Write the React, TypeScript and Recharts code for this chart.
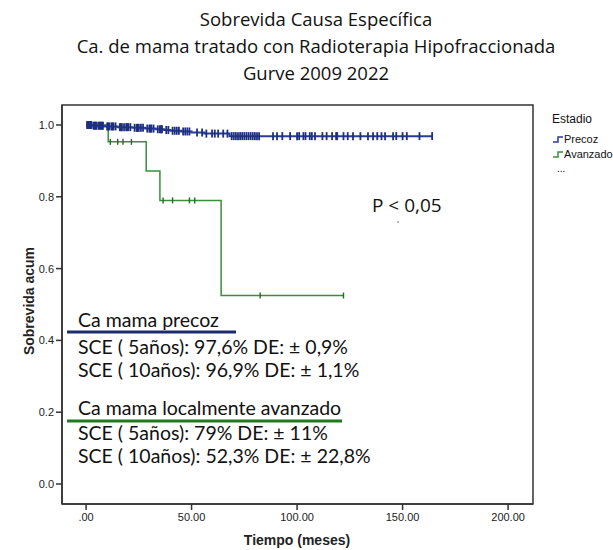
import React from 'react';
import { ComposedChart, Line, XAxis, YAxis, ReferenceArea } from 'recharts';

// Kaplan-Meier values
const precozEventT = [0, 3, 9, 15, 22, 28, 33, 37, 40, 45, 50, 56, 68];
const precozEventS = [1.0, 0.998, 0.996, 0.994, 0.992, 0.99, 0.988, 0.986, 0.984, 0.982, 0.979, 0.976, 0.969];
const precozCensT = [
  0.5, 1, 1.5, 2, 2.5, 3.5, 4, 4.5, 5, 6, 6.5, 7, 7.5, 8, 10, 10.5, 11, 12, 12.5, 13, 14, 16, 16.5, 17, 18, 19,
  19.5, 20, 21, 23, 24, 24.5, 25, 26, 27, 29, 30, 30.5, 31, 32, 34, 35, 35.5, 36, 38, 39, 41, 42, 43, 44, 46,
  47, 48, 49, 52.6, 55, 57, 59.7, 61, 62.6, 65, 67, 69, 70, 71, 72, 73, 74, 75, 76, 77, 78, 79, 80, 81, 82,
  88.6, 90.5, 93, 96.7, 100, 101, 103, 104, 106, 107, 108.5, 112, 114, 116.6, 118.5, 119, 122, 124, 126.5,
  130, 133.6, 136, 138, 140, 141.7, 145.5, 147, 150, 152, 158, 164,
];

const avanzEventT = [0, 10.5, 28.5, 35, 64];
const avanzEventS = [1.0, 0.953, 0.872, 0.79, 0.525];
const avanzCensT = [0.5, 1.5, 2.5, 3.5, 5, 6.5, 8, 11.5, 15, 17.5, 21.5, 36.5, 41, 49, 51.5, 82.5, 122];

const xTicks = [0, 50, 100, 150, 200];
const yTicks = [0, 0.2, 0.4, 0.6, 0.8, 1.0];

const BLUE = '#283c94';
const GREEN = '#3a8f3a';

function buildSeries(eventT: number[], eventS: number[], censT: number[]) {
  const rows: { t: number; s: number; c: boolean }[] = eventT.map((t, i) => ({ t, s: eventS[i], c: false }));
  censT.forEach((t) => {
    let s = eventS[0];
    eventT.forEach((et, i) => {
      if (et <= t) s = eventS[i];
    });
    rows.push({ t, s, c: true });
  });
  return rows.sort((a, b) => a.t - b.t);
}

const precozData = buildSeries(precozEventT, precozEventS, precozCensT);
const avanzData = buildSeries(avanzEventT, avanzEventS, avanzCensT);

const censorDot = (color: string, half: number, w: number) => (props: any) => {
  const { cx, cy, payload, index } = props;
  if (!payload || !payload.c) return <g key={`n${index}`} />;
  return <line key={`c${index}`} x1={cx} x2={cx} y1={cy - half} y2={cy + half} stroke={color} strokeWidth={w} />;
};

const tickStyle = { fontFamily: 'Liberation Sans, Arial', fontSize: 11, fill: '#222' };

export default function App() {
  return (
    <div style={{ position: 'relative', width: 613, height: 550, background: '#fff' }}>
      <style>{`body{margin:0}`}</style>
      <div style={{ position: 'absolute', left: 0, top: 0 }}>
        <ComposedChart width={613} height={550} margin={{ top: 105, right: 80, bottom: 16, left: 22 }}>
          <XAxis
            dataKey="t"
            type="number"
            domain={[-11.4, 211.8]}
            ticks={xTicks}
            tickFormatter={(v: number) => (v === 0 ? '.00' : v.toFixed(2))}
            height={30}
            tickSize={6}
            tickMargin={3}
            axisLine={{ stroke: '#333', strokeWidth: 1.5 }}
            tickLine={{ stroke: '#333', strokeWidth: 1.5 }}
            tick={tickStyle}
            allowDataOverflow
          />
          <YAxis
            type="number"
            domain={[-0.0557, 1.0557]}
            ticks={yTicks}
            tickFormatter={(v: number) => v.toFixed(1)}
            width={40}
            tickSize={6}
            tickMargin={2}
            axisLine={{ stroke: '#333', strokeWidth: 1.5 }}
            tickLine={{ stroke: '#333', strokeWidth: 1.5 }}
            tick={tickStyle}
            allowDataOverflow
          />
          <ReferenceArea
            x1={-11.4}
            x2={211.8}
            y1={-0.0557}
            y2={1.0557}
            fill="none"
            stroke="#333"
            strokeWidth={1.5}
            ifOverflow="visible"
          />
          <Line
            data={avanzData}
            dataKey="s"
            type="stepAfter"
            stroke={GREEN}
            strokeWidth={1.5}
            dot={censorDot('#1f6e1f', 3, 1.4)}
            isAnimationActive={false}
          />
          <Line
            data={precozData}
            dataKey="s"
            type="stepAfter"
            stroke={BLUE}
            strokeWidth={2}
            dot={censorDot('#1e2f80', 4, 1.8)}
            isAnimationActive={false}
          />
        </ComposedChart>
      </div>
      <svg width={613} height={550} style={{ position: 'absolute', left: 0, top: 0, pointerEvents: 'none' }}>
        <g fontFamily="Open Sans, Noto Sans, sans-serif" fontSize={18.5} fill="#111" textAnchor="middle">
          <text x={316} y={26}>Sobrevida Causa Específica</text>
          <text x={316} y={53}>Ca. de mama tratado con Radioterapia Hipofraccionada</text>
          <text x={316} y={80}>Gurve 2009 2022</text>
        </g>
        <g fontFamily="Liberation Sans, Arial" fill="#111">
          <text x={552} y={123} fontSize={12}>Estadio</text>
          <path d="M553 142 H558 V137 H563" stroke={BLUE} strokeWidth={1.5} fill="none" />
          <text x={564} y={143} fontSize={11}>Precoz</text>
          <path d="M553 157 H558 V152 H563" stroke={GREEN} strokeWidth={1.5} fill="none" />
          <text x={564} y={158} fontSize={11}>Avanzado</text>
          <text x={557} y={172} fontSize={10}>...</text>
        </g>
        <text
          x={30}
          y={301}
          transform="rotate(-90 30 301)"
          textAnchor="middle"
          dominantBaseline="middle"
          fontFamily="Liberation Sans, Arial"
          fontWeight="bold"
          fontSize={14}
          fill="#222"
        >
          Sobrevida acum
        </text>
        <text x={297} y={545} textAnchor="middle" fontFamily="Liberation Sans, Arial" fontWeight="bold" fontSize={14} fill="#222">
          Tiempo (meses)
        </text>
        <text x={372} y={212} fontFamily="Open Sans, Noto Sans, sans-serif" fontSize={19} fill="#111">P &lt; 0,05</text>
        <circle cx={398} cy={222} r={0.7} fill="#333" />
        <g fontFamily="Lato, Open Sans, sans-serif" fontSize={19.5} fill="#111">
          <text x={78} y={327}>Ca mama precoz</text>
          <line x1={67} x2={236} y1={332} y2={332} stroke="#1c2a6e" strokeWidth={3} />
          <text x={78} y={354}>SCE ( 5años): 97,6% DE: ± 0,9%</text>
          <text x={78} y={377}>SCE ( 10años): 96,9% DE: ± 1,1%</text>
          <text x={78} y={415}>Ca mama localmente avanzado</text>
          <line x1={67} x2={342} y1={421} y2={421} stroke="#1e7a1e" strokeWidth={3} />
          <text x={78} y={440}>SCE ( 5años): 79% DE: ± 11%</text>
          <text x={78} y={463}>SCE ( 10años): 52,3% DE: ± 22,8%</text>
        </g>
      </svg>
    </div>
  );
}
